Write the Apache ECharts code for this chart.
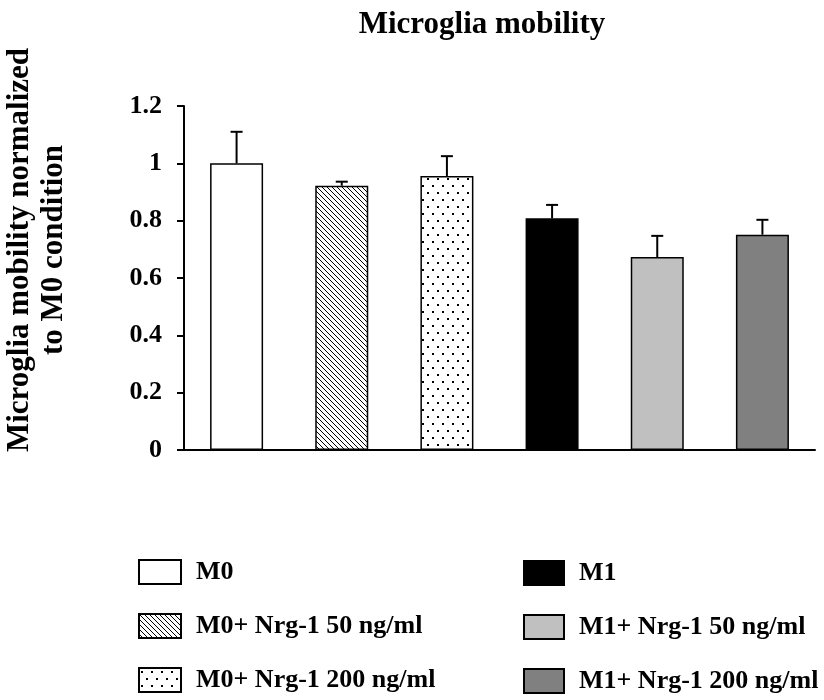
<!DOCTYPE html>
<html>
<head>
<meta charset="utf-8">
<script src="https://cdn.jsdelivr.net/npm/echarts@6/dist/echarts.min.js"></script>
<style>html,body{margin:0;padding:0;background:#fff;}#c{width:824px;height:700px;}</style>
</head>
<body>
<div id="c"></div>
<script>
var categories = ['M0', 'M0+ Nrg-1 50 ng/ml', 'M0+ Nrg-1 200 ng/ml', 'M1', 'M1+ Nrg-1 50 ng/ml', 'M1+ Nrg-1 200 ng/ml'];
var values = [1.0, 0.922, 0.956, 0.808, 0.673, 0.751];
var errors = [0.11, 0.014, 0.069, 0.047, 0.074, 0.052];
var yTicks = [0, 0.2, 0.4, 0.6, 0.8, 1, 1.2];
var titleText = 'Microglia mobility';
var yNameLines = ['Microglia mobility normalized', 'to M0 condition'];

var FONT = '"Liberation Serif", "Times New Roman", serif';

function hatchPattern() {
  var c = document.createElement('canvas');
  c.width = 5; c.height = 5;
  var g = c.getContext('2d');
  g.fillStyle = '#fff'; g.fillRect(0, 0, 5, 5);
  g.strokeStyle = '#000'; g.lineWidth = 1;
  g.beginPath();
  g.moveTo(-1, -1); g.lineTo(6, 6);
  g.moveTo(-1, 4); g.lineTo(1, 6);
  g.moveTo(4, -1); g.lineTo(6, 1);
  g.stroke();
  return { image: c, repeat: 'repeat' };
}
function dotPattern() {
  var c = document.createElement('canvas');
  c.width = 10; c.height = 14;
  var g = c.getContext('2d');
  g.fillStyle = '#fff'; g.fillRect(0, 0, 10, 14);
  g.fillStyle = '#000';
  g.fillRect(2, 3, 2, 2);
  g.fillRect(7, 10, 2, 2);
  return { image: c, repeat: 'repeat' };
}

var fills = ['#ffffff', hatchPattern(), dotPattern(), '#000000', '#c0c0c0', '#808080'];

var series = categories.map(function (name, i) {
  var d = categories.map(function (_, j) { return j === i ? values[i] : '-'; });
  return {
    name: name,
    type: 'bar',
    stack: 'all',
    barWidth: 53,
    data: d,
    itemStyle: { color: fills[i], borderColor: '#000', borderWidth: 1.5 },
    emphasis: { disabled: true },
    animation: false
  };
});

series.push({
  type: 'custom',
  name: 'err',
  data: values.map(function (v, i) { return [i, v, v + errors[i]]; }),
  encode: { x: 0, y: [1, 2] },
  z: 10,
  animation: false,
  renderItem: function (params, api) {
    var i = api.value(0);
    var p0 = api.coord([i, api.value(1)]);
    var p1 = api.coord([i, api.value(2)]);
    var style = { stroke: '#000', lineWidth: 2 };
    return {
      type: 'group',
      children: [
        { type: 'line', shape: { x1: p0[0], y1: p0[1], x2: p1[0], y2: p1[1] }, style: style },
        { type: 'line', shape: { x1: p1[0] - 6, y1: p1[1], x2: p1[0] + 6, y2: p1[1] }, style: style }
      ]
    };
  }
});

var legendText = { fontFamily: FONT, fontWeight: 'bold', fontSize: 26, color: '#000', padding: [0, 0, 0, 10] };

var chart = echarts.init(document.getElementById('c'), null, { renderer: 'canvas' });
chart.setOption({
  backgroundColor: '#fff',
  animation: false,
  title: {
    text: titleText,
    left: 477, top: 4, textAlign: 'center',
    textStyle: { fontFamily: FONT, fontWeight: 'bold', fontSize: 31, color: '#000' }
  },
  grid: { left: 184, right: 9, top: 106, bottom: 250 },
  xAxis: {
    type: 'category',
    data: categories,
    axisLine: { lineStyle: { color: '#000', width: 2 } },
    axisTick: { show: false },
    axisLabel: { show: false },
    splitLine: { show: false }
  },
  yAxis: {
    type: 'value',
    min: 0, max: 1.2, interval: 0.2,
    axisLine: { show: true, lineStyle: { color: '#000', width: 2 } },
    axisTick: { show: true, inside: false, length: 7, lineStyle: { color: '#000', width: 2 } },
    splitLine: { show: false },
    axisLabel: {
      margin: 22,
      fontFamily: FONT, fontWeight: 'bold', fontSize: 26, color: '#000',
      formatter: function (v) {
        for (var k = 0; k < yTicks.length; k++) { if (Math.abs(yTicks[k] - v) < 1e-9) return String(yTicks[k]); }
        return '';
      }
    }
  },
  legend: [
    {
      data: categories.slice(0, 3), orient: 'vertical', left: 138, top: 559, height: 140, padding: 0,
      itemWidth: 42, itemHeight: 24, itemGap: 28, icon: 'rect',
      textStyle: legendText, selectedMode: false
    },
    {
      data: categories.slice(3, 6), orient: 'vertical', left: 523, top: 560, height: 140, padding: 0,
      itemWidth: 40, itemHeight: 24, itemGap: 28, icon: 'rect',
      textStyle: legendText, selectedMode: false
    }
  ],
  graphic: [
    {
      type: 'text', x: 37, y: 250, rotation: Math.PI / 2,
      style: {
        text: yNameLines.join('\n'),
        fontFamily: FONT, fontWeight: 'bold', fontSize: 31, lineHeight: 34,
        fill: '#000', align: 'center', verticalAlign: 'middle'
      }
    }
  ],
  series: series
});
</script>
</body>
</html>
